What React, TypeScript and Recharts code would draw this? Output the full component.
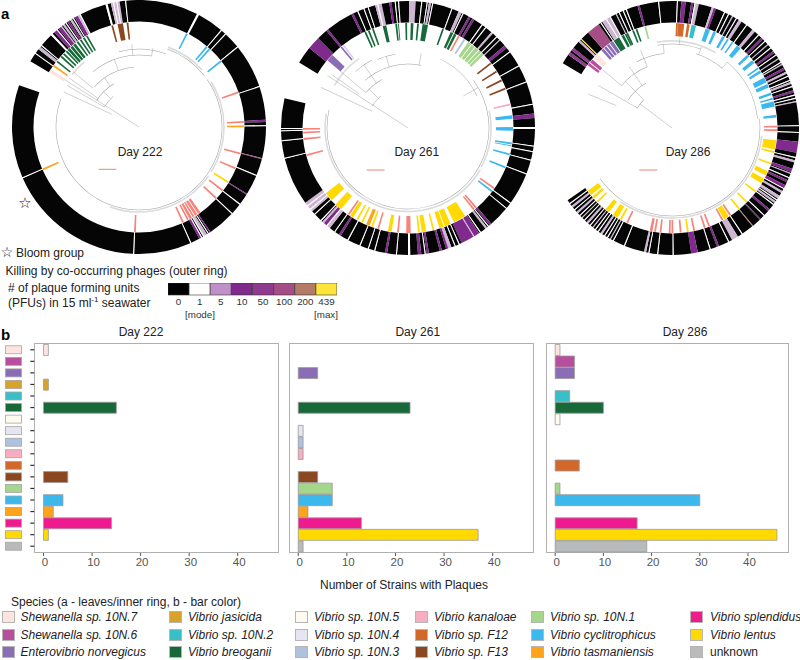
import React from "react";
import { PieChart, Pie, Cell, BarChart, Bar, XAxis, YAxis, LineChart, Line } from "recharts";

const FONT = "'Liberation Sans', Arial, sans-serif";

// ---- species (panel b rows + legend)
const speciesKeys = ["shew7","shew6","entero","jas","n2","breo","n5","n4","n3","kan","f12","f13","n1","cyc","tas","spl","len","unk"];
const speciesNames = ["Shewanella sp. 10N.7","Shewanella sp. 10N.6","Enterovibrio norvegicus","Vibrio jasicida","Vibrio sp. 10N.2","Vibrio breoganii","Vibrio sp. 10N.5","Vibrio sp. 10N.4","Vibrio sp. 10N.3","Vibrio kanaloae","Vibrio sp. F12","Vibrio sp. F13","Vibrio sp. 10N.1","Vibrio cyclitrophicus","Vibrio tasmaniensis","Vibrio splendidus","Vibrio lentus","unknown"];
const speciesColors = ["#fde4df","#b84f9e","#8a6db5","#d9a22b","#39bfc8","#17693a","#fffaf0","#e6e6f2","#aec2e0","#f7aec0","#d2692a","#8b4720","#a6d58c","#3db8ec","#ffa31a","#ef1b8e","#ffd900","#b9babc"];
const strains222 = [1,0,0,1,0,15,0,0,0,0,0,5,0,4,2,14,1,0];
const strains261 = [0,0,4,0,0,23,0,1,1,1,0,4,7,7,2,13,37,1];
const strains286 = [1,4,4,0,3,10,1,0,0,0,5,0,1,30,0,17,46,19];
const xTicks = [0,10,20,30,40];

// ---- PFU scale
const pfuLabels = ["0","1","5","10","50","100","200","439"];
const pfuColors = ["#000000","#ffffff","#c090c8","#7f2a8c","#8e3a8e","#a54d85","#b47a68","#ffe53b"];
const ringColors: Record<string,string> = { k:"#050505", w:"#ffffff", l:"#cdb6d2", p:"#7f2a8c", m:"#8e3a8e", n:"#a54d85", b:"#b47a68", y:"#ffe53b",
  pale:"#fde4df", tas:"#ffa31a", g:"#17693a", br:"#8b4720", c:"#3db8ec", s:"#f6847a", len:"#ffd900", lav:"#8a6db5", lav2:"#d9d4ec", lg:"#a6d58c", lb:"#aec2e0", pink:"#f7aec0", mag:"#b84f9e", f12:"#d2692a", teal:"#39bfc8" };

// ---- rings: [leaf rank, leaf count, class]; one leaf = half a degree of tree
type Mark = [number, number, string];
const outer222: Mark[] = [[8,1,"w"],[13,3,"l"],[17,1,"w"],[30,2,"w"],[34,3,"p"],[37,1,"w"],[39,3,"p"],[42,1,"l"],[44,2,"l"],[47,1,"w"],[49,2,"p"],[52,2,"l"],[55,1,"w"],[57,3,"p"],[60,2,"l"],[62,1,"w"],[87,2,"w"],[92,2,"l"],[94,1,"w"],[95,2,"l"],[97,1,"w"],[98,2,"l"],[105,1,"w"],[172,2,"w"],[198,1,"w"],[203,1,"w"],[219,1,"w"],[260,1,"w"],[291,2,"p"],[296,1,"w"],[326,1,"n"],[342,1,"w"],[361,1,"p"],[372,1,"w"],[383,1,"w"],[409,1,"p"],[411,1,"w"],[413,3,"l"],[416,1,"w"],[418,1,"w"],[419,2,"p"],[429,1,"w"],[482,1,"w"],[610,1,"w"]];
const inner222: Mark[] = [[0,4,"pale"],[8,2,"tas"],[14,2,"g"],[21,2,"g"],[25,2,"g"],[29,2,"g"],[32,3,"g"],[36,3,"g"],[40,3,"g"],[45,2,"g"],[49,2,"g"],[53,2,"g"],[57,2,"g"],[87,2,"br"],[94,6,"br"],[104,2,"br"],[171,2,"c"],[197,2,"c"],[201,2,"c"],[219,2,"c"],[258,2,"s"],[291,2,"s"],[296,2,"tas"],[326,2,"s"],[343,2,"s"],[360,2,"len"],[371,2,"s"],[382,2,"s"],[406,3,"s"],[410,3,"s"],[414,2,"s"],[417,3,"s"],[421,2,"s"],[427,2,"s"],[481,2,"s"],[609,2,"tas"]];
const outer261: Mark[] = [[16,12,"p"],[38,2,"p"],[65,2,"p"],[71,1,"w"],[77,1,"w"],[81,1,"w"],[88,2,"l"],[90,1,"w"],[91,3,"l"],[101,2,"p"],[106,1,"w"],[109,1,"w"],[119,6,"l"],[130,1,"w"],[135,1,"w"],[137,2,"l"],[140,1,"w"],[158,1,"w"],[165,3,"l"],[169,1,"w"],[175,2,"p"],[179,2,"p"],[189,1,"w"],[193,1,"w"],[200,2,"l"],[206,1,"w"],[210,1,"l"],[217,3,"p"],[224,1,"w"],[239,1,"w"],[255,1,"w"],[276,1,"w"],[285,4,"p"],[297,2,"w"],[314,1,"w"],[319,1,"w"],[327,1,"w"],[340,1,"w"],[370,1,"w"],[376,1,"w"],[396,2,"p"],[399,1,"w"],[401,2,"l"],[408,1,"w"],[410,5,"p"],[415,1,"l"],[416,12,"p"],[430,1,"w"],[434,1,"w"],[438,3,"l"],[441,2,"p"],[447,2,"p"],[459,2,"p"],[462,1,"w"],[466,3,"p"],[476,2,"w"],[488,1,"w"],[497,2,"p"],[508,1,"w"],[514,1,"w"],[522,1,"w"],[534,1,"w"],[542,2,"p"],[548,1,"w"],[554,3,"l"],[557,1,"w"],[558,3,"p"],[561,2,"l"],[564,1,"w"],[572,1,"w"],[576,2,"l"],[578,1,"w"],[579,3,"l"],[582,1,"w"],[583,3,"l"],[630,1,"w"],[646,1,"w"],[655,1,"w"],[657,1,"w"]];
const inner261: Mark[] = [[18,8,"lav"],[38,2,"lav"],[41,2,"lav2"],[69,2,"g"],[73,2,"g"],[78,2,"g"],[90,4,"g"],[104,2,"g"],[107,1,"g"],[115,2,"g"],[121,3,"g"],[128,2,"g"],[134,6,"g"],[156,2,"g"],[166,3,"g"],[170,3,"g"],[175,2,"s"],[182,2,"lb"],[188,4,"lg"],[193,4,"lg"],[198,4,"lg"],[203,3,"lg"],[207,3,"lg"],[221,2,"br"],[232,2,"br"],[243,2,"br"],[253,2,"br"],[271,2,"pink"],[284,4,"c"],[297,4,"c"],[314,2,"c"],[317,1,"c"],[326,2,"c"],[341,2,"c"],[367,2,"s"],[371,2,"c"],[396,2,"s"],[399,2,"s"],[412,14,"len"],[430,7,"len"],[438,5,"len"],[449,2,"len"],[458,5,"len"],[465,2,"len"],[475,5,"s"],[488,2,"s"],[496,4,"len"],[510,2,"s"],[517,2,"len"],[521,4,"tas"],[529,2,"len"],[535,2,"len"],[541,4,"len"],[546,2,"s"],[557,8,"len"],[571,10,"len"],[627,2,"s"],[645,2,"s"],[652,2,"s"],[656,2,"s"]];
const outer286: Mark[] = [[9,3,"m"],[14,3,"m"],[24,2,"l"],[27,1,"y"],[36,12,"n"],[50,1,"w"],[52,4,"l"],[56,1,"w"],[57,3,"l"],[60,1,"w"],[66,1,"l"],[69,1,"w"],[73,1,"w"],[76,1,"w"],[87,2,"p"],[106,1,"w"],[123,1,"w"],[127,4,"p"],[136,2,"p"],[139,1,"w"],[140,3,"l"],[155,2,"l"],[157,2,"p"],[167,1,"w"],[171,1,"w"],[175,1,"l"],[179,1,"w"],[182,3,"l"],[190,1,"w"],[197,3,"l"],[204,1,"w"],[208,2,"p"],[212,1,"w"],[216,1,"l"],[220,1,"w"],[224,2,"p"],[228,1,"w"],[232,1,"l"],[236,1,"w"],[238,1,"l"],[242,2,"p"],[246,2,"l"],[250,1,"w"],[254,1,"w"],[256,2,"l"],[260,1,"w"],[264,2,"p"],[268,1,"w"],[271,1,"w"],[274,1,"l"],[296,1,"w"],[302,1,"w"],[311,10,"p"],[325,1,"w"],[328,2,"l"],[336,3,"p"],[340,1,"l"],[344,1,"w"],[347,2,"p"],[352,3,"p"],[355,1,"w"],[358,2,"l"],[363,3,"l"],[367,1,"w"],[369,2,"l"],[372,1,"w"],[378,2,"p"],[385,1,"w"],[390,1,"p"],[399,1,"b"],[411,1,"w"],[416,6,"l"],[425,1,"w"],[435,2,"p"],[443,1,"w"],[455,6,"p"],[477,1,"w"],[491,1,"w"],[499,1,"w"],[502,2,"l"],[522,1,"w"],[533,1,"w"],[536,1,"l"],[539,1,"w"],[542,1,"w"],[545,2,"l"],[549,1,"w"],[552,1,"w"],[555,1,"l"],[558,1,"w"],[561,2,"l"],[565,1,"w"],[568,1,"l"],[571,1,"w"],[574,2,"l"],[578,1,"w"],[581,2,"l"],[585,1,"w"]];
const inner286: Mark[] = [[12,3,"mag"],[15,1,"pale"],[16,4,"mag"],[22,6,"pale"],[34,3,"lav"],[38,3,"lav"],[42,3,"lav"],[46,4,"lav"],[51,7,"g"],[61,3,"g"],[65,2,"g"],[67,2,"g"],[74,2,"g"],[78,2,"g"],[88,2,"lg"],[123,2,"f12"],[125,7,"f12"],[135,3,"f12"],[140,5,"teal"],[156,5,"c"],[165,3,"c"],[176,3,"c"],[182,2,"c"],[188,2,"c"],[195,5,"c"],[210,3,"c"],[218,4,"c"],[228,2,"c"],[232,3,"c"],[241,6,"c"],[249,4,"c"],[259,3,"c"],[265,2,"c"],[269,6,"c"],[284,3,"c"],[296,2,"s"],[300,2,"s"],[312,10,"len"],[324,2,"len"],[337,2,"len"],[347,5,"len"],[356,6,"len"],[372,2,"len"],[387,2,"len"],[398,2,"len"],[410,2,"s"],[413,6,"len"],[420,2,"s"],[436,2,"s"],[441,2,"s"],[453,2,"s"],[460,2,"len"],[468,2,"s"],[477,2,"s"],[480,2,"s"],[490,2,"s"],[496,2,"s"],[500,3,"s"],[528,2,"s"],[536,2,"len"],[541,6,"len"],[552,5,"len"],[568,2,"len"],[574,3,"len"],[579,6,"len"]];

// ---- tree: arcs [radius, from angle, to angle], branches [angle, from radius, to radius]
type Tri = [number, number, number];
const arcs222: Tri[] = [[83,35,-200],[83,70,38],[78,105,70],[72,130,80],[60,138,95],[50,148,120],[40,150,130]];
const tips222: Tri[] = [[85,70,42],[85,32,-32],[85,-35,-110],[85,130,142]];
const branches222: Tri[] = [[147.5,0,88],[135,40,50],[125,50,60],[110,60,72],[95,72,83],[80,72,80],[150,40,83],[155,30,83],[145,50,85],[140,60,86]];
const arcs261: Tri[] = [[81,36,-193],[76,65,25],[64,132,78],[75,114,100],[55,140,118],[42,148,130],[77,133,118]];
const tips261: Tri[] = [[83.5,-30,-130],[83,-130,-190],[83,12,-28],[85,150,125]];
const branches261: Tri[] = [[147,0,96],[135,42,55],[125,55,64],[107,64,75],[80,64,76],[30,64,81],[155,40,96],[140,55,90],[145,60,92],[125,64,77]];
const arcs286: Tri[] = [[86,50,6],[88,6,-145],[78,72,50],[84,100,70],[75,118,96],[66,140,112],[52,148,120],[40,150,135]];
const tips286: Tri[] = [[90,-5,-75],[90,-75,-125],[87,100,60]];
const branches286: Tri[] = [[143,0,40],[150,40,85],[135,40,66],[125,52,75],[112,66,84],[96,75,84],[85,84,90],[70,78,86],[50,78,86],[140,66,90],[158,60,90]];

function expand(marks: Mark[], total: number, bg: string) {
  const rows: { value: number; key: string }[] = [];
  let pos = 0;
  for (const [leaf, count, key] of marks) {
    if (leaf > pos) rows.push({ value: leaf - pos, key: bg });
    const s = Math.max(leaf, pos);
    const e = leaf + count;
    if (e > s) { rows.push({ value: e - s, key }); pos = e; }
  }
  if (pos < total) rows.push({ value: total - pos, key: bg });
  return rows;
}
const pt = (a: number, r: number) => ({ x: r * Math.cos((a * Math.PI) / 180), y: r * Math.sin((a * Math.PI) / 180) });

function Ring({ data, start, end, ri, ro }: any) {
  return (
    <Pie data={data} dataKey="value" cx={130} cy={130} startAngle={start} endAngle={end} innerRadius={ri} outerRadius={ro} paddingAngle={0} stroke="none" isAnimationActive={false} legendType="none">
      {data.map((d: any, i: number) => (
        <Cell key={i} fill={d.key === "none" ? "transparent" : ringColors[d.key]} stroke="none" />
      ))}
    </Pie>
  );
}

function Tree({ cx, cy, start, sweep, outer, inner, arcs, tips, branches, innerR, scale }: any) {
  const box = { position: "absolute" as const, left: cx - 130, top: cy - 130 };
  const end = start - sweep;
  const outerRows = expand(outer, Math.round(sweep * 2), "k");
  const innerRows = expand(inner, Math.round(sweep * 2), "none");
  return (
    <>
      <div style={box}>
        <PieChart width={260} height={260} margin={{ top: 0, right: 0, bottom: 0, left: 0 }}>
          {Ring({ data: outerRows, start, end, ri: 105.5, ro: 127 })}
          {Ring({ data: innerRows, start, end, ri: innerR, ro: 105 })}
          {tips.map(([r, a, b]: Tri, i: number) => (
            <Pie key={"t" + i} data={[{ value: 1 }]} dataKey="value" cx={130} cy={130} startAngle={a} endAngle={b} innerRadius={r - 0.8} outerRadius={r + 0.8} fill="#dcdcdc" stroke="none" isAnimationActive={false} legendType="none" />
          ))}
          {arcs.map(([r, a, b]: Tri, i: number) => (
            <Pie key={i} data={[{ value: 1 }]} dataKey="value" cx={130} cy={130} startAngle={a} endAngle={b} innerRadius={r - 0.25} outerRadius={r + 0.25} fill="#9a9a9a" stroke="none" isAnimationActive={false} legendType="none" />
          ))}
        </PieChart>
      </div>
      <div style={box}>
        <LineChart width={260} height={260} margin={{ top: 0, right: 0, bottom: 0, left: 0 }}>
          <XAxis type="number" dataKey="x" domain={[-130, 130]} hide allowDataOverflow />
          <YAxis type="number" domain={[-130, 130]} hide allowDataOverflow />
          {branches.map(([a, r0, r1]: Tri, i: number) => (
            <Line key={i} data={[pt(a, r0), pt(a, r1)]} dataKey="y" stroke="#a0a0a0" strokeWidth={0.5} dot={false} isAnimationActive={false} legendType="none" />
          ))}
          <Line data={scale} dataKey="y" stroke="#f08080" strokeWidth={1} dot={false} isAnimationActive={false} legendType="none" />
        </LineChart>
      </div>
    </>
  );
}

function Txt({ x, y, size = 12, anchor = "start", color = "#222", weight = "normal", italic = false, children }: any) {
  const tx = anchor === "middle" ? "-50%" : "0";
  return (
    <div style={{ position: "absolute", left: x, top: y, transform: `translate(${tx},-50%)`, fontSize: size, color, fontWeight: weight, fontStyle: italic ? "italic" : "normal", whiteSpace: "nowrap", lineHeight: 1 }}>
      {children}
    </div>
  );
}

function Swatch({ y, payload }: any) {
  const i = speciesKeys.indexOf(payload.value);
  return <rect x={5.5} y={y - 4} width={16} height={8} fill={speciesColors[i]} stroke="#a5a5a5" strokeWidth={0.8} />;
}

function Panel({ left, width, plotLeft, plotWidth, values, axis }: any) {
  const data = speciesKeys.map((k, i) => ({ k, v: values[i] }));
  return (
    <>
      <div style={{ position: "absolute", left: plotLeft, top: 342.5, width: plotWidth, height: 210, border: "1px solid #b0b0b0", boxSizing: "border-box" }} />
      <div style={{ position: "absolute", left, top: 342.5 }}>
        <BarChart width={width} height={232} layout="vertical" data={data} barCategoryGap="4%" margin={{ top: 0, right: 0, bottom: 0, left: 0 }}>
          <XAxis type="number" domain={[-1.9, 48.5]} ticks={xTicks} allowDataOverflow axisLine={false} tickLine={{ stroke: "#555" }} tickSize={3} tick={{ fontSize: 11.5, fill: "#555", dx: 1.5, fontFamily: FONT }} interval={0} height={22} />
          <YAxis type="category" dataKey="k" hide={!axis} width={plotLeft - left} interval={0} padding={{ top: 1, bottom: 1 }} axisLine={false} tickLine={{ stroke: "#333", strokeWidth: 1.2 }} tickSize={4} tick={axis ? <Swatch /> : false} />
          <Bar dataKey="v" isAnimationActive={false} stroke="#9a9a9a" strokeWidth={0.8}>
            {data.map((d, i) => <Cell key={d.k} fill={speciesColors[i]} />)}
          </Bar>
        </BarChart>
      </div>
    </>
  );
}

const legendColumns = [[2, 20.5], [168.5, 188], [295, 314], [415, 434], [530.5, 550], [690, 710]];
const legendRows = [617, 634.5, 652];

export default function App() {
  const pfuData = pfuLabels.map((l) => ({ l, v: 1 }));
  return (
    <div style={{ position: "absolute", left: 0, top: 0, width: 800, height: 660, overflow: "hidden", background: "#fff", fontFamily: FONT }}>
      <Tree cx={138.7} cy={127} start={148.8} sweep={348} outer={outer222} inner={inner222} arcs={arcs222} tips={tips222} branches={branches222} innerR={88} scale={[{ x: -40.4, y: -42.3 }, { x: -22.7, y: -42.3 }]} />
      <Tree cx={407.5} cy={127.5} start={149} sweep={342.5} outer={outer261} inner={inner261} arcs={arcs261} tips={tips261} branches={branches261} innerR={88} scale={[{ x: -41.5, y: -42 }, { x: -23.5, y: -42 }]} />
      <Tree cx={671.7} cy={127.5} start={149.3} sweep={294.6} outer={outer286} inner={inner286} arcs={arcs286} tips={tips286} branches={branches286} innerR={92} scale={[{ x: -32.7, y: -42 }, { x: -14.4, y: -42 }]} />

      <Txt x={140} y={152} anchor="middle">Day 222</Txt>
      <Txt x={416.8} y={152} anchor="middle">Day 261</Txt>
      <Txt x={688} y={152} anchor="middle">Day 286</Txt>

      <Txt x={1} y={13} size={15} weight="bold" color="#000">a</Txt>
      <Txt x={1} y={334} size={15} weight="bold" color="#000">b</Txt>

      <Txt x={25} y={203} anchor="middle" size={15} color="#111"><span style={{ fontFamily: "'DejaVu Sans'" }}>☆</span></Txt>
      <Txt x={7} y={252} anchor="middle" size={14} color="#111"><span style={{ fontFamily: "'DejaVu Sans'" }}>☆</span></Txt>
      <Txt x={16} y={253}>Bloom group</Txt>
      <Txt x={5.5} y={270.5}>Killing by co-occurring phages (outer ring)</Txt>
      <Txt x={8} y={288}># of plaque forming units</Txt>
      <Txt x={8} y={302.5}>(PFUs) in 15 ml<sup style={{ fontSize: 8, lineHeight: 0 }}>-1</sup> seawater</Txt>

      <div style={{ position: "absolute", left: 168, top: 283 }}>
        <BarChart width={169} height={28} data={pfuData} barCategoryGap={0} margin={{ top: 0, right: 0, bottom: 0, left: 0 }}>
          <XAxis dataKey="l" interval={0} axisLine={false} tickLine={false} height={16} tickSize={0} tickMargin={3} tick={{ fontSize: 9.8, fill: "#333", fontFamily: FONT }} />
          <YAxis hide domain={[0, 1]} />
          <Bar dataKey="v" isAnimationActive={false} stroke="#333" strokeWidth={0.6}>
            {pfuData.map((d, i) => <Cell key={d.l} fill={pfuColors[i]} />)}
          </Bar>
        </BarChart>
      </div>
      <Txt x={200} y={315} anchor="middle" size={9.8} color="#333">[mode]</Txt>
      <Txt x={326} y={315} anchor="middle" size={9.8} color="#333">[max]</Txt>

      <Txt x={141} y={332} anchor="middle">Day 222</Txt>
      <Txt x={417.8} y={332} anchor="middle">Day 261</Txt>
      <Txt x={685} y={332} anchor="middle">Day 286</Txt>

      <Panel left={0} width={279} plotLeft={34.3} plotWidth={244.5} values={strains222} axis />
      <Panel left={289.3} width={245} plotLeft={289.3} plotWidth={245} values={strains261} />
      <Panel left={546.3} width={243} plotLeft={546.3} plotWidth={243} values={strains286} />

      <Txt x={404} y={585} anchor="middle">Number of Strains with Plaques</Txt>
      <Txt x={11} y={602}>Species (a - leaves/inner ring, b - bar color)</Txt>

      {speciesKeys.map((k, i) => {
        const col = legendColumns[Math.floor(i / 3)];
        const y = legendRows[i % 3];
        return (
          <React.Fragment key={k}>
            <div style={{ position: "absolute", left: col[0], top: y - 6, width: 13, height: 12, background: speciesColors[i], border: "1px solid #b5b5b5", boxSizing: "border-box" }} />
            <Txt x={col[1]} y={y} italic={k !== "unk"}>{speciesNames[i]}</Txt>
          </React.Fragment>
        );
      })}
    </div>
  );
}
